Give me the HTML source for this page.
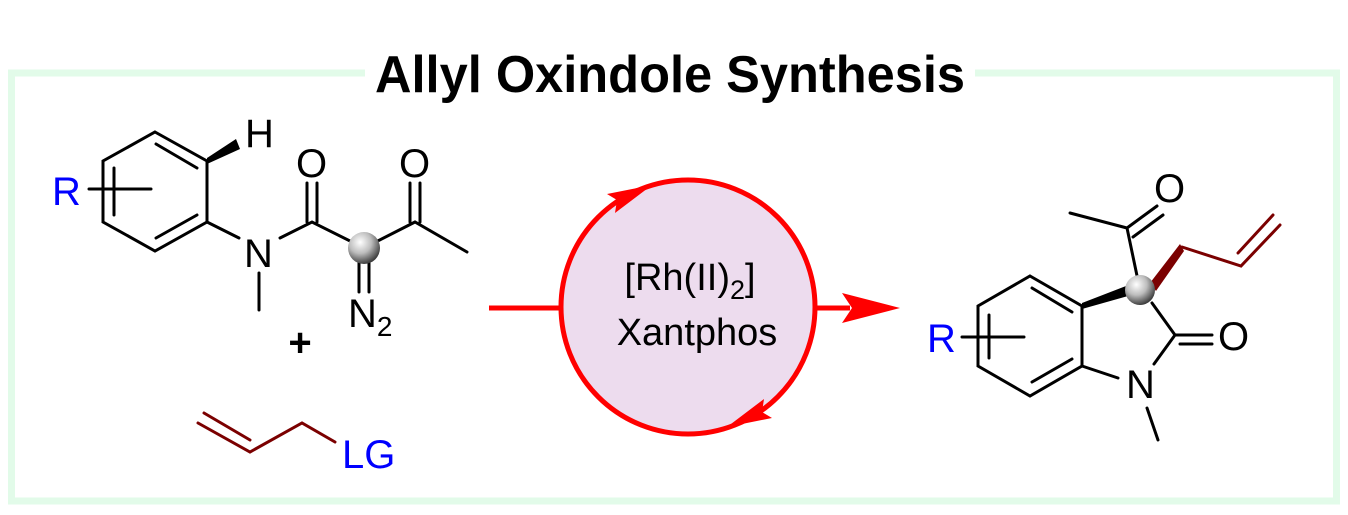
<!DOCTYPE html>
<html><head><meta charset="utf-8"><style>
html,body{margin:0;padding:0;background:#fff;}
svg{display:block;}
text{font-family:"Liberation Sans",sans-serif;}
</style></head><body>
<svg width="1348" height="515" viewBox="0 0 1348 515" xmlns="http://www.w3.org/2000/svg">
<defs>
<radialGradient id="ball" cx="0.38" cy="0.32" r="0.7">
<stop offset="0" stop-color="#ffffff"/><stop offset="0.5" stop-color="#bdbdbd"/><stop offset="1" stop-color="#3a3a3a"/>
</radialGradient>
</defs>
<path d="M365,73 H11.5 V501 H1336.5 V73 H975" fill="none" stroke="#e2fbe9" stroke-width="7"/>
<text x="670" y="92" text-anchor="middle" font-size="52" font-weight="bold" textLength="590" lengthAdjust="spacingAndGlyphs" fill="#000">Allyl Oxindole Synthesis</text>

<g stroke="#000" stroke-width="3" fill="none" stroke-linecap="round">
<path d="M155,132 L207,161 L207,222 L155,251 L103,222 L103,161 Z"/>
<path d="M156,144 L197,168 M114,168 L114,215 M156,238 L197,215"/>
<path d="M89,189 L151,189"/>
<path d="M207,222 L239,238 M259,273 L259,310 M280,238 L312,222 L364,248 L415,222 L467,252"/>
<path d="M307,183 L307,222 M317,183 L317,222 M410,183 L410,222 M420,183 L420,222 M359,263 L359,292 M369,263 L369,292"/>
<path d="M1030,276 L1082,306 L1082,366 L1030,396 L978,366 L978,306 Z"/>
<path d="M1032,288 L1072,312 M989,315 L989,358 M1032,382 L1072,359"/>
<path d="M962,337 L1024,337"/>
<path d="M1152,303 L1175,335 L1154,364 M1175,335 L1212,335 M1180,344 L1212,344 M1082,366 L1118,378 M1147,408 L1158,440"/>
<path d="M1140,290 L1127,228 L1070,213 M1127,228 L1157,206 M1133,237 L1163,215"/>
</g>
<polygon points="207,158 207,164 240,149 236,139" fill="#000"/>
<polygon points="1082,303 1082,309 1128,296 1126,286" fill="#000"/>
<g stroke="#7b0000" stroke-width="3" fill="none" stroke-linecap="round">
<path d="M198,423 L250,452 L302,423 L335,442 M204,413 L250,440"/>
<path d="M1182,247 L1241,266 L1280,225 M1238,253 L1273,215"/>
</g>
<polygon points="1150,283 1156,291 1184,251 1180,244" fill="#7b0000"/>
<circle cx="364" cy="248" r="16" fill="url(#ball)"/>
<circle cx="1140" cy="290" r="15" fill="url(#ball)"/>

<g font-size="40" fill="#000">
<text x="245" y="147">H</text>
<text x="296" y="177">O</text>
<text x="399" y="177">O</text>
<text x="244" y="267">N</text>
<text x="348" y="327">N<tspan font-size="28" dy="9">2</tspan></text>
<text x="300" y="356" font-size="40" font-weight="bold" text-anchor="middle">+</text>
<text x="1154" y="202">O</text>
<text x="1218" y="350">O</text>
<text x="1126" y="398">N</text>
</g>
<g font-size="40" fill="#0000ff">
<text x="52" y="205">R</text>
<text x="927" y="352">R</text>
<text x="342" y="468">LG</text>
</g>

<circle cx="688" cy="307" r="127" fill="#eddcee" stroke="#ff0000" stroke-width="5"/>
<path d="M489,308 H560 M816,308 H850" stroke="#ff0000" stroke-width="5"/>
<polygon points="900,308 842,293 852,308 842,323" fill="#ff0000"/>
<polygon points="652,185 607,194 617,200 615,213" fill="#ff0000"/>
<polygon points="727,427 772,418 762,412 764,399" fill="#ff0000"/>
<text x="690" y="290" text-anchor="middle" font-size="38" fill="#000">[Rh(II)<tspan font-size="27" dy="9">2</tspan><tspan dy="-9">]</tspan></text>
<text x="697" y="345" text-anchor="middle" font-size="38" fill="#000">Xantphos</text>
</svg>
</body></html>
